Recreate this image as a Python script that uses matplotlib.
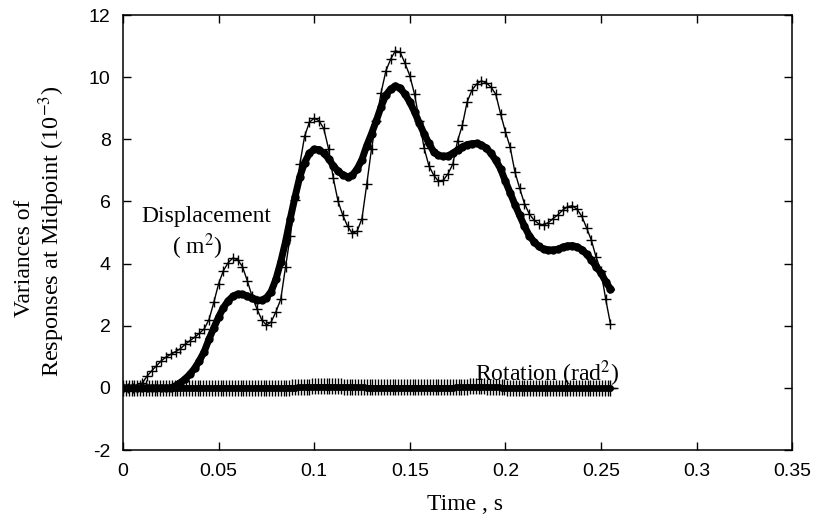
import numpy as np
import matplotlib
matplotlib.use('Agg')
import matplotlib.pyplot as plt

plt.rcParams['mathtext.fontset'] = 'stix'

# sampling steps of the response histories, s
dt = 0.0025
dt_rot = 0.0015

# displacement variance, '+' series (1e-3 m^2)
disp_plus = [
    0.0, 0.0, 0.0, 0.0, 0.15, 0.37, 0.55, 0.71, 0.87, 0.99,
    1.08, 1.17, 1.26, 1.40, 1.52, 1.63, 1.76, 1.90, 2.20, 2.75,
    3.35, 3.77, 4.03, 4.18, 4.12, 3.90, 3.45, 2.95, 2.55, 2.20,
    2.02, 2.12, 2.45, 2.85, 3.88, 4.90, 6.05, 7.20, 8.10, 8.55,
    8.68, 8.60, 8.35, 7.70, 6.75, 6.00, 5.55, 5.20, 4.97, 5.05,
    5.45, 6.55, 7.70, 8.60, 9.50, 10.20, 10.58, 10.85, 10.80, 10.45,
    10.05, 9.45, 8.60, 7.72, 7.15, 6.85, 6.65, 6.68, 6.89, 7.20,
    7.95, 8.45, 9.20, 9.58, 9.78, 9.88, 9.82, 9.68, 9.45, 8.82,
    8.25, 7.75, 6.95, 6.42, 5.93, 5.60, 5.40, 5.28, 5.24, 5.32,
    5.45, 5.57, 5.72, 5.83, 5.86, 5.75, 5.52, 5.15, 4.75, 4.20,
    3.77, 2.85, 2.05,
]

# displacement variance, thick dotted series (1e-3 m^2)
disp_dot = [
    0.0, 0.0, 0.0, 0.0, 0.0, 0.0, 0.0, 0.0, 0.0, 0.0,
    0.0, 0.07, 0.17, 0.29, 0.44, 0.63, 0.88, 1.17, 1.57, 1.93,
    2.28, 2.58, 2.80, 2.95, 3.02, 3.01, 2.96, 2.88, 2.82, 2.82,
    2.90, 3.10, 3.50, 4.05, 4.70, 5.45, 6.15, 6.80, 7.25, 7.55,
    7.68, 7.67, 7.56, 7.38, 7.15, 6.97, 6.86, 6.79, 6.85, 7.05,
    7.35, 7.80, 8.18, 8.60, 9.05, 9.42, 9.62, 9.72, 9.65, 9.45,
    9.20, 8.88, 8.52, 8.18, 7.87, 7.60, 7.48, 7.45, 7.47, 7.55,
    7.66, 7.75, 7.83, 7.86, 7.87, 7.82, 7.72, 7.55, 7.32, 7.05,
    6.65, 6.28, 5.90, 5.55, 5.20, 4.90, 4.70, 4.55, 4.46, 4.44,
    4.44, 4.46, 4.53, 4.57, 4.58, 4.54, 4.45, 4.30, 4.12, 3.90,
    3.70, 3.42, 3.18,
]

# rotation variance, '+' series (1e-3 rad^2)
rot_plus = [
    0.0, 0.0, 0.0, 0.0, 0.0, 0.0, 0.0, 0.0, 0.0, 0.0, 0.0, 0.0, 0.0, 0.0, 0.0, 0.0, 0.0, 0.0, 0.0,
    0.0, 0.0, 0.0, 0.0, 0.0, 0.0, 0.0, 0.0, 0.0, 0.0, 0.0, 0.0, 0.0, 0.0, 0.0, 0.0, 0.0, 0.0, 0.0,
    0.0, 0.0, 0.0, 0.0, 0.0, 0.0, 0.0, 0.0, 0.0, 0.0, 0.0, 0.0, 0.0, 0.0, 0.0, 0.0, 0.01, 0.01, 0.01,
    0.01, 0.01, 0.02, 0.02, 0.02, 0.03, 0.03, 0.04, 0.04, 0.05, 0.05, 0.06, 0.06, 0.06, 0.06, 0.06, 0.05, 0.05, 0.05,
    0.05, 0.04, 0.04, 0.04, 0.04, 0.03, 0.03, 0.03, 0.03, 0.02, 0.02, 0.02, 0.02, 0.02, 0.02, 0.02, 0.02, 0.02, 0.02,
    0.02, 0.02, 0.02, 0.02, 0.02, 0.02, 0.02, 0.02, 0.02, 0.02, 0.02, 0.02, 0.02, 0.02, 0.02, 0.02, 0.02, 0.02, 0.02,
    0.02, 0.02, 0.03, 0.03, 0.03, 0.04, 0.04, 0.05, 0.05, 0.05, 0.05, 0.05, 0.05, 0.04, 0.04, 0.04, 0.03, 0.03, 0.02,
    0.02, 0.01, 0.01, 0.0, 0.0, 0.0, 0.0, -0.01, -0.01, -0.01, -0.01, -0.01, -0.01, -0.01, -0.01, -0.01, -0.01, -0.01, -0.01,
    -0.01, -0.01, -0.01, -0.01, -0.01, -0.02, -0.02, -0.02, -0.02, -0.02, -0.02, -0.02, -0.02, -0.02, -0.02, -0.02, -0.02, -0.02, -0.02,
]

# rotation variance, thick dotted series (1e-3 rad^2)
rot_dot = [
    0.0, 0.0, 0.0, 0.0, 0.0, 0.0, 0.0, 0.0, 0.0, 0.0, 0.0, 0.0, 0.0, 0.0, 0.0, 0.0, 0.0, 0.0, 0.0,
    0.0, 0.0, 0.0, 0.0, 0.0, 0.0, 0.0, 0.0, 0.0, 0.0, 0.0, 0.0, 0.0, 0.0, 0.0, 0.0, 0.0, 0.0, 0.0,
    0.0, 0.0, 0.0, 0.0, 0.0, 0.0, 0.0, 0.0, 0.0, 0.0, 0.0, 0.0, 0.0, 0.0, 0.0, 0.0, 0.0, 0.0, 0.0,
    0.01, 0.01, 0.01, 0.01, 0.02, 0.02, 0.02, 0.03, 0.03, 0.03, 0.04, 0.04, 0.04, 0.04, 0.04, 0.04, 0.04, 0.03, 0.03,
    0.03, 0.03, 0.03, 0.02, 0.02, 0.02, 0.02, 0.02, 0.02, 0.01, 0.01, 0.01, 0.01, 0.01, 0.01, 0.01, 0.01, 0.01, 0.01,
    0.01, 0.01, 0.01, 0.01, 0.01, 0.01, 0.01, 0.01, 0.01, 0.01, 0.01, 0.01, 0.01, 0.01, 0.01, 0.01, 0.01, 0.01, 0.01,
    0.01, 0.01, 0.02, 0.02, 0.02, 0.02, 0.03, 0.03, 0.03, 0.03, 0.03, 0.03, 0.03, 0.03, 0.02, 0.02, 0.02, 0.02, 0.01,
    0.01, 0.01, 0.0, 0.0, 0.0, 0.0, 0.0, 0.0, -0.01, -0.01, -0.01, -0.01, -0.01, -0.01, -0.01, -0.01, -0.01, -0.01, -0.01,
    -0.01, -0.01, -0.01, -0.01, -0.01, -0.01, -0.01, -0.02, -0.02, -0.02, -0.02, -0.02, -0.02, -0.02, -0.02, -0.02, -0.02, -0.02, -0.02,
]

time = dt * np.arange(len(disp_plus))
time_rot = dt_rot * np.arange(len(rot_plus))

xticks = [0, 0.05, 0.1, 0.15, 0.2, 0.25, 0.3, 0.35]
xtick_labels = ['0', '0.05', '0.1', '0.15', '0.2', '0.25', '0.3', '0.35']
yticks = [-2, 0, 2, 4, 6, 8, 10, 12]
ytick_labels = ['-2', '0', '2', '4', '6', '8', '10', '12']

serif = ['Liberation Serif', 'DejaVu Serif']
sans = ['Liberation Sans', 'DejaVu Sans']

fig = plt.figure(figsize=(8.13, 5.2), dpi=100)
ax = fig.add_axes([0.1513, 0.1346, 0.823, 0.8365])

# rotation curves hugging zero
ax.plot(time_rot, rot_dot, '-', color='black', lw=3.5, marker='o', ms=4, zorder=2)
ax.plot(time_rot, rot_plus, '-', color='black', lw=1, marker='+', ms=11, mew=1.0, zorder=3)

# displacement curves
ax.plot(time, disp_dot, '-', color='black', lw=5, marker='o', ms=5, zorder=4)
ax.plot(time, disp_plus, '-', color='black', lw=1, marker='+', ms=7, mew=1.0, zorder=5)

ax.set_xlim(0, 0.35)
ax.set_ylim(-2, 12)
ax.set_xticks(xticks)
ax.set_xticklabels(xtick_labels, family=sans, fontsize=14)
ax.set_yticks(yticks)
ax.set_yticklabels(ytick_labels, family=sans, fontsize=14)
ax.tick_params(direction='in', length=6, width=1, top=True, right=True, pad=9)
for sp in ax.spines.values():
    sp.set_linewidth(1.1)

ax.text(0.0437, 5.5, 'Displacement', family=serif, fontsize=17, ha='center', va='center')
ax.text(0.0387, 4.55, '( m$^2$)', family=serif, fontsize=17, ha='center', va='center')
ax.text(0.2219, 0.2, 'Rotation (rad$^2$)', family=serif, fontsize=17, ha='center', va='baseline')

fig.text(465 / 813, 1 - 505 / 520, 'Time , s', family=serif, fontsize=17, ha='center', va='center')
fig.text(25 / 813, 1 - 258 / 520, 'Variances of', family=serif, fontsize=17,
         rotation=90, ha='center', va='center')
fig.text(52 / 813, 1 - 231 / 520, 'Responses at Midpoint (10$^{-3}$)', family=serif,
         fontsize=17.5, rotation=90, ha='center', va='center')

fig.savefig('out.png', dpi=100)
